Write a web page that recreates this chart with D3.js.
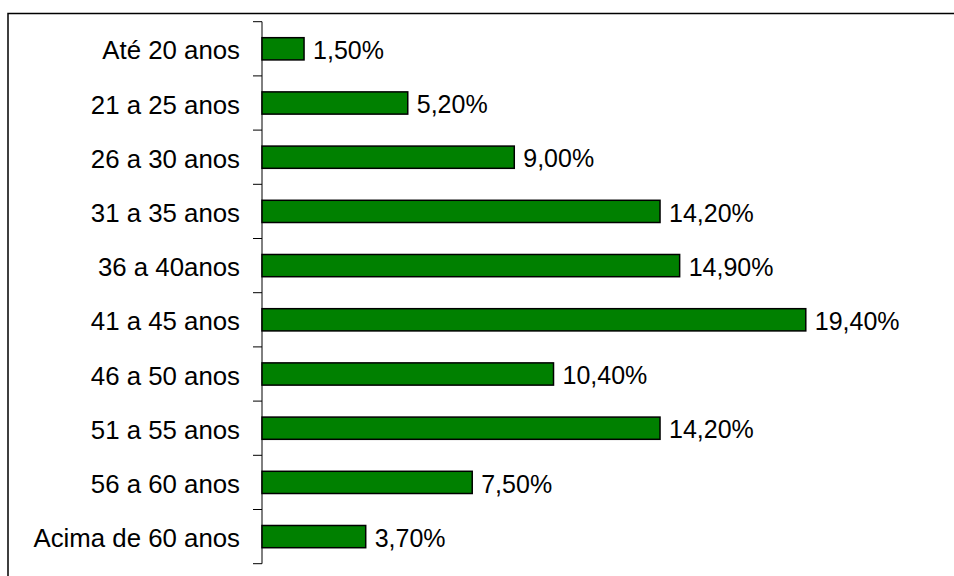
<!DOCTYPE html>
<html><head><meta charset="utf-8">
<script src="https://cdn.jsdelivr.net/npm/d3@7"></script>
<style>
html,body{margin:0;padding:0;background:#fff;}
svg{display:block;font-family:"Liberation Sans",Arial,sans-serif;}
</style></head>
<body><svg id="c" width="954" height="576"></svg>
<script>
const categories = ["Até 20 anos","21 a 25 anos","26 a 30 anos","31 a 35 anos","36 a 40anos","41 a 45 anos","46 a 50 anos","51 a 55 anos","56 a 60 anos","Acima de 60 anos"];
const values = [1.5, 5.2, 9.0, 14.2, 14.9, 19.4, 10.4, 14.2, 7.5, 3.7];
const valueLabels = ["1,50%","5,20%","9,00%","14,20%","14,90%","19,40%","10,40%","14,20%","7,50%","3,70%"];

const svg = d3.select("#c");
// outer frame (only left and top visible)
svg.append("path").attr("d","M8,580V13.5H960").attr("fill","none").attr("stroke","#000").attr("stroke-width",1.5);

const x0 = 262, yTop = 21.7, yBot = 563.7;
const x = d3.scaleLinear().domain([0,20]).range([x0, x0 + 20*28.03]);
const y = d3.scaleBand().domain(categories).range([yTop, yBot]);
const bh = y.bandwidth()*0.41;

// axis line and ticks at band boundaries
svg.append("line").attr("x1",x0).attr("x2",x0).attr("y1",yTop).attr("y2",yBot).attr("stroke","#000").attr("stroke-width",1);
const bounds = d3.range(categories.length+1).map(i => yTop + i*y.step());
svg.selectAll(".tk").data(bounds).join("line").attr("class","tk")
  .attr("x1",x0-9).attr("x2",x0).attr("y1",d=>d).attr("y2",d=>d).attr("stroke","#000").attr("stroke-width",1);

// category labels
svg.selectAll(".cl").data(categories).join("text").attr("class","cl")
  .attr("x",240).attr("y",d=>y(d)+y.bandwidth()/2).attr("dy","0.41em")
  .attr("text-anchor","end").attr("font-size",25.8).attr("fill","#000").text(d=>d);

// bars
svg.selectAll(".bar").data(values).join("rect").attr("class","bar")
  .attr("x",x(0)).attr("y",(d,i)=>y(categories[i])+y.bandwidth()/2-bh/2)
  .attr("width",d=>x(d)-x(0)).attr("height",bh)
  .attr("fill","#008000").attr("stroke","#000").attr("stroke-width",1.5);

// value labels
svg.selectAll(".vl").data(values).join("text").attr("class","vl")
  .attr("x",d=>x(d)+9).attr("y",(d,i)=>y(categories[i])+y.bandwidth()/2).attr("dy","0.41em")
  .attr("font-size",25).attr("fill","#000").text((d,i)=>valueLabels[i]);
</script></body></html>
